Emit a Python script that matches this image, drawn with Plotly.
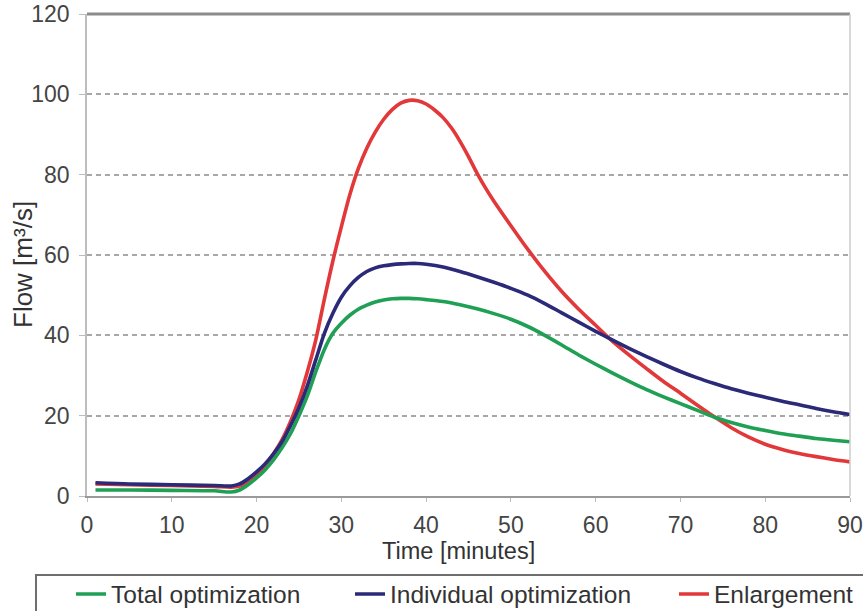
import plotly.graph_objects as go

# ---- data ----
time_total = [1, 5, 10, 15, 17, 18, 19, 20, 21, 22, 23, 24, 25, 26, 27, 28, 29, 30, 31, 32, 33, 34, 35, 36, 37, 38, 39, 40,
              42, 44, 46, 48, 50, 52, 54, 56, 58, 60, 62, 64, 66, 68, 70, 72, 74, 76, 78, 80, 82, 84, 86, 88, 90]
flow_total = [1.5, 1.5, 1.4, 1.3, 1.0, 1.5, 2.8, 4.5, 6.5, 9, 12, 15.5, 20, 25, 31, 36.5, 40.5, 43, 45, 46.5, 47.5, 48.3, 48.8, 49.1, 49.2, 49.2, 49.1, 48.9,
              48.4, 47.6, 46.6, 45.4, 44, 42.2, 40, 37.6, 35.1, 32.8, 30.6, 28.5, 26.5, 24.7, 23, 21.3, 19.6, 18.3, 17.2, 16.3, 15.5, 14.9, 14.3, 13.9, 13.5]

time_indiv = [1, 5, 10, 15, 17, 18, 19, 20, 21, 22, 23, 24, 25, 26, 27, 28, 29, 30, 31, 32, 33, 34, 35, 36, 37, 38, 39, 40,
              42, 44, 46, 48, 50, 52, 54, 56, 58, 60, 62, 64, 66, 68, 70, 72, 74, 76, 78, 80, 82, 84, 86, 88, 90]
flow_indiv = [3.3, 3.0, 2.8, 2.6, 2.5, 3.0, 4.3, 6, 8, 10.5, 13.5, 17.5, 22, 27.5, 34, 40.5, 45.5, 49.5, 52.3, 54.4, 55.9, 56.8, 57.3, 57.6, 57.8, 57.9, 57.9, 57.7,
              57.0, 55.9, 54.6, 53.2, 51.7, 50, 47.9, 45.6, 43.3, 41, 38.8, 36.7, 34.7, 32.8, 31, 29.4, 28, 26.7, 25.6, 24.6, 23.6, 22.7, 21.8, 21, 20.3]

time_enl = [1, 5, 10, 15, 17, 18, 19, 20, 21, 22, 23, 24, 25, 26, 27, 28, 29, 30, 31, 32, 33, 34, 35, 36, 37, 38, 39, 40,
            41, 42, 43, 44, 45, 46, 47, 48, 50, 52, 54, 56, 58, 60, 62, 64, 66, 68, 70, 72, 74, 76, 78, 80, 82, 84, 86, 88, 90]
flow_enl = [3.0, 2.8, 2.6, 2.4, 2.2, 2.5, 3.5, 5, 7.5, 10.5, 14, 18.5, 24, 31, 39, 49, 58.5, 67, 75, 81.5, 86.6, 90.6, 93.8, 96.2, 97.8, 98.5, 98.4, 97.6,
            96.1, 94.2, 91.6, 88.3, 84.5, 80.4, 76.7, 73.4, 67.3, 61.4, 55.9, 50.9, 46.5, 42.5, 38.5, 35, 31.7, 28.5, 25.6, 22.6, 19.7, 17, 14.7, 12.9, 11.6, 10.6, 9.8, 9.1, 8.5]

x_ticks = [0, 10, 20, 30, 40, 50, 60, 70, 80, 90]
y_ticks = [0, 20, 40, 60, 80, 100, 120]
x_title = "Time [minutes]"
y_title = "Flow [m³/s]"

FONT = "Liberation Sans, Arial, sans-serif"

fig = go.Figure()
fig.add_trace(go.Scatter(x=time_enl, y=flow_enl, mode="lines", name="Enlargement",
                         line=dict(color="#e2383a", width=3.6, shape="spline", smoothing=0.8),
                         legend="legend3"))
fig.add_trace(go.Scatter(x=time_total, y=flow_total, mode="lines", name="Total optimization",
                         line=dict(color="#1fa055", width=3.6, shape="spline", smoothing=0.8),
                         legend="legend"))
fig.add_trace(go.Scatter(x=time_indiv, y=flow_indiv, mode="lines", name="Individual optimization",
                         line=dict(color="#2b2a78", width=3.6, shape="spline", smoothing=0.8),
                         legend="legend2"))

# plot area in page pixels is x 87..850, y 14..496 (body margin removed below)
W, H = 863, 611
L, T = 87, 14
R = W - 850
B = H - 496
pw, ph = W - L - R, H - T - B

def px_x(p):  # page pixel -> paper x
    return (p - L) / pw

def px_y(p):  # page pixel -> paper y
    return (H - B - p) / ph

leg_common = dict(orientation="h", xanchor="left", yanchor="middle",
                  bgcolor="rgba(0,0,0,0)", borderwidth=0,
                  font=dict(family=FONT, size=24.5, color="#333333"))

fig.update_layout(
    width=W, height=H,
    margin=dict(l=L, r=R, t=T, b=B, autoexpand=False),
    plot_bgcolor="white", paper_bgcolor="white",
    font=dict(family=FONT, size=23, color="#444444"),
    showlegend=True,
    legend=dict(x=px_x(71), y=px_y(594), **leg_common),
    legend2=dict(x=px_x(350), y=px_y(594), **leg_common),
    legend3=dict(x=px_x(674), y=px_y(594), **leg_common),
    xaxis=dict(range=[0, 90], tickvals=x_ticks, ticktext=[str(v) for v in x_ticks],
               showgrid=False, zeroline=False, automargin=False,
               showline=True, linecolor="#9a9a9a", linewidth=2,
               ticks="outside", ticklen=4, tickcolor="#bbbbbb", ticklabelstandoff=3,
               ticklabeloverflow="allow",
               tickfont=dict(size=23, color="#444444")),
    yaxis=dict(range=[0, 120], tickvals=y_ticks, ticktext=[str(v) for v in y_ticks],
               showgrid=True, gridcolor="#a8a8a8", gridwidth=2, griddash="5px,4px",
               zeroline=False, automargin=False,
               showline=True, linecolor="#bdbdbd", linewidth=1.5,
               ticks="outside", ticklen=6, tickcolor="#bdbdbd", ticklabelstandoff=5,
               ticklabeloverflow="allow",
               tickfont=dict(size=23, color="#444444")),
    annotations=[
        dict(text=x_title, xref="paper", yref="paper", x=px_x(458), y=px_y(551),
             xanchor="center", yanchor="middle", showarrow=False,
             font=dict(family=FONT, size=23.5, color="#333333")),
        dict(text=y_title, xref="paper", yref="paper", x=px_x(23), y=px_y(265),
             xanchor="center", yanchor="middle", showarrow=False, textangle=-90,
             font=dict(family=FONT, size=26, color="#333333")),
    ],
    shapes=[
        dict(type="line", xref="paper", yref="paper", x0=0, x1=1, y0=1, y1=1,
             line=dict(color="#8c8c8c", width=3)),
        dict(type="line", xref="paper", yref="paper", x0=1, x1=1, y0=0, y1=1,
             line=dict(color="#cccccc", width=1.5)),
        dict(type="rect", xref="paper", yref="paper",
             x0=px_x(36), x1=px_x(880), y0=px_y(575), y1=px_y(640),
             line=dict(color="#6e6e6e", width=2), fillcolor="rgba(0,0,0,0)", layer="below"),
    ],
)

fig.write_html("out.html", config={"displayModeBar": False},
               post_script="document.body.style.margin='0px';")
